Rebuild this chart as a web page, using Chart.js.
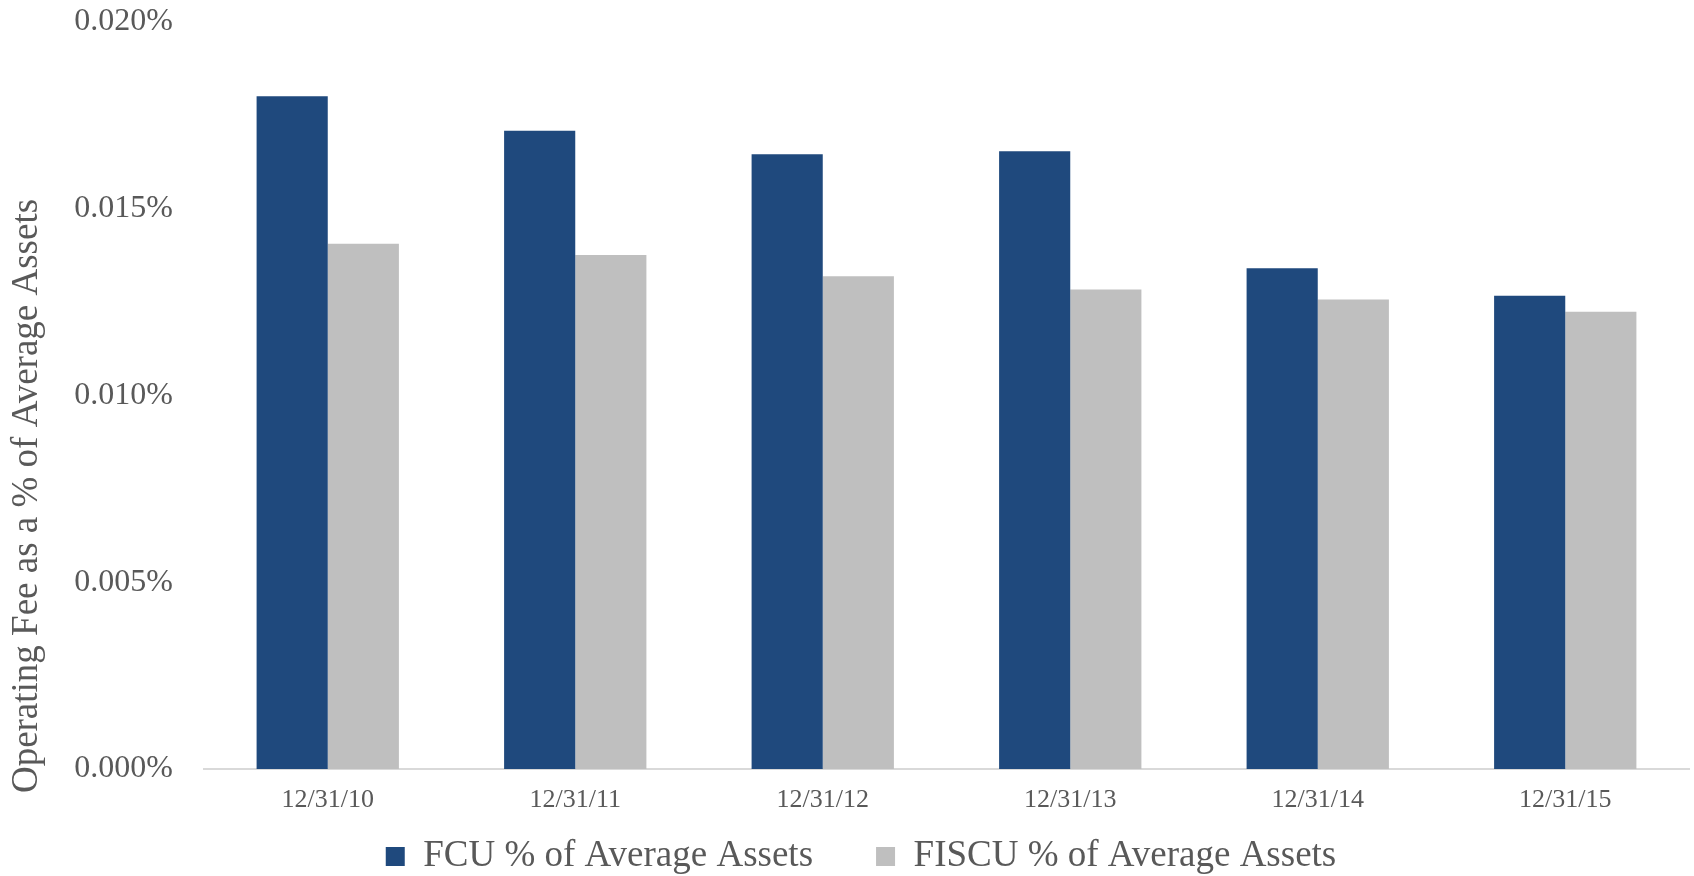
<!DOCTYPE html>
<html>
<head>
<meta charset="utf-8">
<script src="https://cdn.jsdelivr.net/npm/chart.js@4/dist/chart.umd.min.js"></script>
<style>
  html, body { margin: 0; padding: 0; background: #ffffff; overflow: hidden; }
  #wrap { position: relative; width: 1694px; height: 876px; }
</style>
</head>
<body>
<div id="wrap"><canvas id="c"></canvas></div>
<script>
const categories = ['12/31/10', '12/31/11', '12/31/12', '12/31/13', '12/31/14', '12/31/15'];
const fcuValues = [0.01801, 0.01709, 0.01646, 0.01654, 0.01341, 0.01267];
const fiscuValues = [0.01406, 0.01376, 0.01319, 0.01284, 0.01257, 0.01224];
const seriesNames = ['FCU % of Average Assets', 'FISCU % of Average Assets'];
const yTickValues = [0, 0.005, 0.010, 0.015, 0.020];
const yTitle = 'Operating Fee as a % of Average Assets';

const FONT = '"Liberation Serif", "Times New Roman", serif';
const TEXT = '#595959';

const yTitlePlugin = {
  id: 'yTitle',
  afterDraw(chart) {
    const ctx = chart.ctx;
    ctx.save();
    ctx.translate(37, 496);
    ctx.rotate(-Math.PI / 2);
    ctx.font = '37px ' + FONT;
    ctx.fillStyle = TEXT;
    ctx.textAlign = 'center';
    ctx.textBaseline = 'alphabetic';
    ctx.fillText(yTitle, 0, 0);
    ctx.restore();
  }
};

new Chart(document.getElementById('c'), {
  type: 'bar',
  data: {
    labels: categories,
    datasets: [
      { label: seriesNames[0], data: fcuValues, backgroundColor: '#1F497D', borderWidth: 0 },
      { label: seriesNames[1], data: fiscuValues, backgroundColor: '#BFBFBF', borderWidth: 0 }
    ]
  },
  options: {
    responsive: true,
    maintainAspectRatio: false,
    animation: false,
    devicePixelRatio: 1,
    layout: { padding: { left: 33, right: 5, top: 22, bottom: -9 } },
    datasets: { bar: { barPercentage: 1.0, categoryPercentage: 0.575 } },
    plugins: {
      tooltip: { enabled: false },
      legend: {
        display: true,
        position: 'bottom',
        labels: {
          boxWidth: 19,
          boxHeight: 19,
          padding: 63,
          color: TEXT,
          font: { family: FONT, size: 37 }
        }
      }
    },
    scales: {
      x: {
        grid: { display: false, drawTicks: false },
        border: { display: true, color: '#D9D9D9', width: 2 },
        ticks: {
          color: TEXT,
          font: { family: FONT, size: 26 },
          mirror: true,
          padding: -47,
          maxRotation: 0,
          autoSkip: false
        },
        afterFit(scale) { scale.height = 6; }
      },
      y: {
        min: 0,
        max: 0.020,
        grid: { display: false, drawTicks: false },
        border: { display: false },
        afterBuildTicks(scale) { scale.ticks = yTickValues.map(v => ({ value: v })); },
        ticks: {
          color: TEXT,
          font: { family: FONT, size: 32 },
          padding: 31,
          callback: (v) => Number(v).toFixed(3) + '%'
        },
        afterFit(scale) {
          scale.width = 171;
          scale.paddingTop = 0;
          scale.paddingBottom = 0;
        }
      }
    }
  },
  plugins: [yTitlePlugin]
});
</script>
</body>
</html>
